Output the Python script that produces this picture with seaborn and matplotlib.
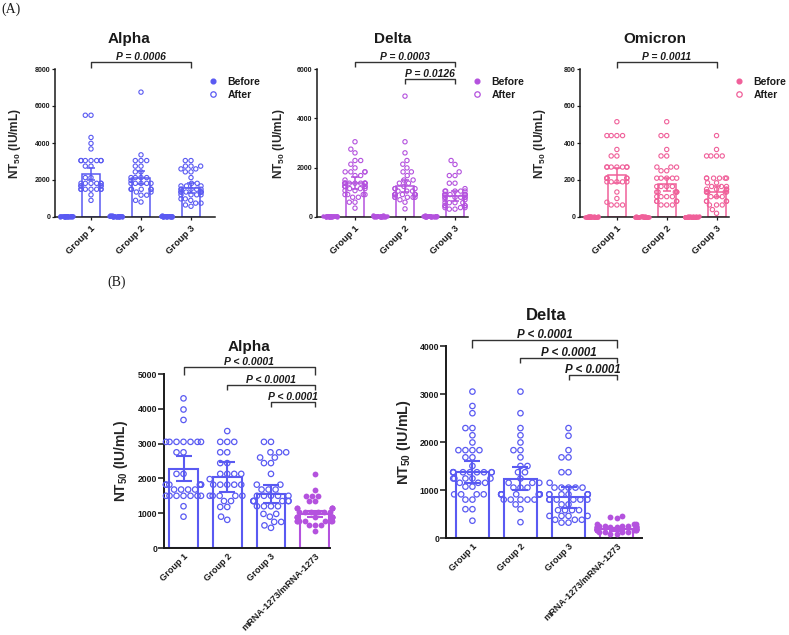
import warnings
import pandas as pd
import matplotlib
matplotlib.use("Agg")
import matplotlib.pyplot as plt
from matplotlib.lines import Line2D
import seaborn as sns

warnings.filterwarnings("ignore")

# values (NT50, IU/mL)
groups = ["Group 1", "Group 2", "Group 3"]
b_groups = ["Group 1", "Group 2", "Group 3", "mRNA-1273/mRNA-1273"]

alpha_g1 = [4300, 3980, 3680, 3050, 3050, 3050, 3050, 3050, 3050, 3050, 2750, 2750,
            2130, 2130, 1820, 1820, 1820, 1820, 1820, 1820, 1680, 1680, 1680, 1680,
            1500, 1500, 1500, 1500, 1500, 1500, 1500, 1200, 900]
alpha_g2 = [3360, 3050, 3050, 3050, 2750, 2750, 2440, 2440, 2130, 2130, 2130, 2130,
            1980, 1820, 1820, 1820, 1820, 1820, 1500, 1500, 1500, 1500, 1500, 1350,
            1350, 1180, 1180, 900, 810]
alpha_g3 = [3050, 3050, 2750, 2750, 2750, 2600, 2600, 2440, 2440, 2130, 1820, 1820,
            1680, 1680, 1680, 1500, 1500, 1500, 1500, 1500, 1350, 1350, 1350, 1350,
            1350, 1350, 1200, 1200, 1200, 1200, 980, 980, 900, 750, 750, 650, 580]
alpha_mrna = [2130, 1660, 1500, 1500, 1500, 1350, 1350, 1150, 1150, 1150, 1150, 1150,
              1040, 1040, 1040, 1040, 1040, 1040, 900, 900, 900, 900, 900, 900, 900,
              900, 780, 780, 780, 780, 780, 780, 780, 650, 650, 650, 480]

delta_g1 = [3050, 2750, 2600, 2290, 2290, 2140, 1990, 1830, 1830, 1830, 1830, 1680,
            1680, 1500, 1370, 1370, 1370, 1370, 1370, 1370, 1370, 1370, 1370, 1240,
            1240, 1240, 1240, 1240, 1150, 1150, 1150, 1070, 1070, 910, 910, 910, 910,
            800, 800, 600, 600, 360]
delta_g2 = [3050, 2600, 2290, 2140, 1990, 1830, 1830, 1680, 1500, 1500, 1370, 1370,
            1240, 1150, 1150, 1150, 1050, 1050, 1050, 910, 910, 910, 910, 910, 910,
            910, 910, 910, 800, 800, 800, 800, 800, 700, 600, 330]
delta_g3 = [2290, 2130, 1830, 1680, 1680, 1370, 1370, 1150, 1050, 1050, 1050, 1050,
            1050, 910, 910, 910, 910, 910, 910, 910, 800, 800, 800, 800, 800, 800,
            700, 700, 580, 580, 580, 580, 460, 460, 460, 460, 380, 380, 380, 320, 320]
delta_mrna = [450, 430, 410, 300, 300, 300, 260, 260, 260, 260, 260, 220, 220, 220,
              220, 220, 220, 220, 220, 190, 190, 190, 190, 190, 190, 190, 190, 160,
              160, 160, 160, 160, 160, 130, 130, 130, 130, 90, 90]

omicron_g1 = [515, 440, 440, 440, 440, 365, 330, 330, 270, 270, 270, 270, 270, 270,
              270, 210, 210, 210, 210, 210, 190, 190, 190, 190, 190, 135, 100, 80,
              65, 65, 65]
omicron_g2 = [515, 440, 440, 365, 330, 330, 270, 270, 270, 250, 250, 210, 210, 210,
              210, 210, 165, 165, 165, 165, 135, 135, 135, 135, 135, 110, 110, 110,
              110, 85, 85, 85, 85, 65, 65, 65]
omicron_g3 = [440, 365, 330, 330, 330, 330, 210, 210, 210, 210, 210, 210, 185, 185,
              165, 165, 165, 150, 150, 150, 150, 135, 135, 135, 135, 135, 110, 110,
              110, 85, 85, 85, 85, 65, 65, 65, 40, 20]

# high points only visible in panel A (panel B axes stop lower)
alpha_a_extra = [[5500, 5500], [6750], []]
delta_a_extra = [[], [4900], []]

# pre-boost titres, all near the floor
alpha_before = [
    [40, 20, 60, 40, 20, 40, 80, 40, 20, 40, 60, 40, 20, 40, 40, 60, 20, 40, 40, 80,
     20, 40, 60, 40, 40, 20, 40, 60, 40, 20],
    [60, 40, 20, 40, 100, 40, 20, 60, 40, 40, 20, 80, 40, 60, 20, 40, 40, 20, 60, 40,
     40, 120, 20, 40, 60, 40, 20, 40, 40, 60],
    [40, 60, 20, 40, 40, 80, 20, 40, 60, 40, 20, 40, 100, 40, 20, 60, 40, 40, 20, 40,
     60, 20, 40, 80, 40, 40, 20, 60, 40, 40],
]
delta_before = [
    [30, 20, 40, 30, 20, 30, 50, 30, 20, 30, 40, 30, 20, 30, 30, 40, 20, 30, 30, 50,
     20, 30, 40, 30, 30, 20, 30, 40, 30, 20],
    [40, 30, 20, 30, 80, 30, 20, 40, 30, 30, 20, 60, 30, 40, 20, 30, 30, 20, 40, 30,
     30, 90, 20, 30, 40, 30, 20, 30, 30, 40],
    [30, 40, 20, 30, 30, 60, 20, 30, 40, 30, 20, 30, 70, 30, 20, 40, 30, 30, 20, 30,
     40, 20, 30, 60, 30, 30, 20, 40, 30, 30],
]
omicron_before = [
    [2, 2, 3, 2, 2, 2, 3, 2, 2, 2, 2, 3, 2, 2, 2, 2, 3, 2, 2, 2, 2, 2, 3, 2, 2, 2, 2,
     3, 2, 2],
    [2, 3, 2, 2, 2, 2, 2, 3, 2, 2, 2, 2, 2, 3, 2, 2, 2, 2, 3, 2, 2, 2, 2, 2, 3, 2, 2,
     2, 2, 2],
    [2, 2, 2, 3, 2, 2, 2, 2, 3, 2, 2, 2, 2, 2, 2, 3, 2, 2, 2, 3, 2, 2, 2, 2, 2, 2, 3,
     2, 2, 2],
]

# bar heights and error half-widths as drawn
alpha_a_mean = [2320, 2130, 1570]
alpha_a_err = [330, 350, 280]
delta_a_mean = [1390, 1260, 865]
delta_a_err = [240, 250, 200]
omicron_a_mean = [225, 178, 137]
omicron_a_err = [40, 35, 28]
alpha_b_mean = [2280, 2040, 1550, 970]
alpha_b_err = [350, 420, 260, 80]
delta_b_mean = [1370, 1230, 850, 180]
delta_b_err = [230, 240, 220, 30]

alpha_a_p = ["P = 0.0006"]
delta_a_p = ["P = 0.0003", "P = 0.0126"]
omicron_a_p = ["P = 0.0011"]
alpha_b_p = ["P < 0.0001", "P < 0.0001", "P < 0.0001"]
delta_b_p = ["P < 0.0001", "P < 0.0001", "P < 0.0001"]

alpha_a_yticks = [0, 2000, 4000, 6000, 8000]
delta_a_yticks = [0, 2000, 4000, 6000]
omicron_a_yticks = [0, 200, 400, 600, 800]
alpha_b_yticks = [0, 1000, 2000, 3000, 4000, 5000]
delta_b_yticks = [0, 1000, 2000, 3000, 4000]

BLUE = "#5a5af2"
PURPLE = "#b452de"
PINK = "#f0609a"
INK = "#1a1a1a"

sns.set_style("ticks")
plt.rcParams["font.family"] = ["Liberation Sans", "DejaVu Sans"]
plt.rcParams["mathtext.default"] = "regular"
plt.rcParams["text.color"] = INK
plt.rcParams["axes.edgecolor"] = INK
plt.rcParams["xtick.color"] = INK
plt.rcParams["ytick.color"] = INK

W, H = 789, 635
YLABEL = "NT$_{50}$ (IU/mL)"


def px_rect(left, top, right, bottom):
    return [left / W, 1 - bottom / H, (right - left) / W, (bottom - top) / H]


def unclip_points(ax, start):
    # let dots sitting on the x axis show fully; drop empty scatter stubs
    for coll in list(ax.collections[start:]):
        if len(coll.get_offsets()) == 0:
            coll.remove()
        else:
            coll.set_clip_on(False)


def add_bracket(ax, x1, x2, y, leg, text, fs, lift):
    trans = ax.get_xaxis_transform()
    ax.plot([x1, x1, x2, x2], [y - leg, y, y, y - leg], transform=trans,
            color="#333333", lw=1.0, clip_on=False, solid_capstyle="butt")
    ax.text((x1 + x2) / 2, y + lift, text, transform=trans, ha="center",
            va="baseline", fontsize=fs, style="italic", weight="bold", clip_on=False)


def style_axes(ax, yticks, xlim, ytick_fs, spine_w, ytick_len):
    ax.set_xlim(xlim)
    ax.set_ylim(yticks[0], yticks[-1])
    ax.set_yticks(yticks, labels=[str(t) for t in yticks], fontsize=ytick_fs,
                  fontweight="bold")
    ax.set_xlabel("")
    sns.despine(ax=ax)
    for s in ["left", "bottom"]:
        ax.spines[s].set_linewidth(spine_w)
    ax.tick_params(axis="y", length=ytick_len, width=spine_w * 0.8, pad=1)


def draw_panel_a(rect, after, extra, before, means, errs, color, yticks, xlim,
                 title, title_x, pvals, brackets, legend_x, ylabel_x):
    ax = fig.add_axes(rect)
    conds, rows = [], []
    for g, a, ex, b in zip(groups, after, extra, before):
        conds += [g + " Before", g + " After"]
        rows += [(g + " Before", "Before", v) for v in b]
        rows += [(g + " After", "After", v) for v in a + ex]
    pts = pd.DataFrame(rows, columns=["cond", "time", "value"])
    bars = pd.DataFrame({"cond": [g + " After" for g in groups], "value": means})

    sns.barplot(data=bars, x="cond", y="value", order=conds, color=color, fill=False,
                width=0.72, linewidth=1.1, errorbar=None, ax=ax)
    n0 = len(ax.collections)
    sns.stripplot(data=pts[pts.time == "Before"], x="cond", y="value", order=conds,
                  color=color, size=3.2, jitter=0.28, linewidth=0, ax=ax)
    n1 = len(ax.collections)
    sns.swarmplot(data=pts[pts.time == "After"], x="cond", y="value", order=conds,
                  color=color, size=3.1, linewidth=0.8, ax=ax)
    for coll in ax.collections[n1:]:
        coll.set_facecolor("none")
        coll.set_edgecolor(color)
    unclip_points(ax, n0)
    for g, m, e in zip(groups, means, errs):
        ax.errorbar(conds.index(g + " After"), m, yerr=e, color=color, capsize=3,
                    elinewidth=1.1, capthick=1.1, zorder=4)

    style_axes(ax, yticks, xlim, 5, 1.1, 2.2)
    ax.set_xticks([conds.index(g + " After") for g in groups])
    ax.set_xticklabels(groups, rotation=45, ha="right", va="top",
                       rotation_mode="anchor", fontsize=6.8, fontweight="bold")
    ax.tick_params(axis="x", length=2, width=0.9, pad=3)
    ax.set_ylabel(YLABEL, fontsize=8.6, fontweight="bold")
    ax.yaxis.set_label_coords(ylabel_x, 0.5)
    ax.text(title_x, 1.176, title, transform=ax.transAxes, ha="center",
            va="baseline", fontsize=11, fontweight="bold")

    for (a, b, y, leg), p in zip(brackets, pvals):
        add_bracket(ax, conds.index(groups[a] + " After"),
                    conds.index(groups[b] + " After"), y, leg, p, 7.4, 0.014)

    handles = [Line2D([], [], ls="none", marker="o", ms=3.4, mfc=color, mec=color),
               Line2D([], [], ls="none", marker="o", ms=3.9, mfc="none", mec=color,
                      mew=0.9)]
    ax.legend(handles, ["Before", "After"], loc="upper left",
              bbox_to_anchor=(legend_x, 0.946), frameon=False,
              prop={"weight": "bold", "size": 7.5}, handlelength=0.8,
              handletextpad=1.0, borderpad=0, borderaxespad=0, labelspacing=0.3)
    return ax


def draw_panel_b(rect, data, means, errs, yticks, xlim, bar_w, title, title_fs,
                 pvals, brackets, pv_fs, ylabel_fs, ylabel_x, cap):
    ax = fig.add_axes(rect)
    colors = [BLUE, BLUE, BLUE, PURPLE]
    pts = pd.DataFrame([(g, v) for g, vals in zip(b_groups, data) for v in vals],
                       columns=["cond", "value"])
    bars = pd.DataFrame({"cond": b_groups, "value": means})

    sns.barplot(data=bars, x="cond", y="value", hue="cond", order=b_groups,
                palette=colors, fill=False, width=bar_w, linewidth=1.5,
                errorbar=None, legend=False, ax=ax)
    n0 = len(ax.collections)
    sns.swarmplot(data=pts[pts.cond != b_groups[-1]], x="cond", y="value",
                  order=b_groups, color=BLUE, size=3.9, linewidth=0.9, ax=ax)
    n1 = len(ax.collections)
    sns.swarmplot(data=pts[pts.cond == b_groups[-1]], x="cond", y="value",
                  order=b_groups, color=PURPLE, size=4.2, linewidth=0, ax=ax)
    for coll in ax.collections[n0:n1]:
        coll.set_facecolor("none")
        coll.set_edgecolor(BLUE)
    unclip_points(ax, n0)
    for g, m, e, c in zip(b_groups, means, errs, colors):
        ax.errorbar(b_groups.index(g), m, yerr=e, color=c, capsize=cap,
                    elinewidth=1.5, capthick=1.5, zorder=4)

    style_axes(ax, yticks, xlim, 6.2, 1.4, 4)
    ax.set_xticks(range(len(b_groups)))
    ax.set_xticklabels(b_groups, rotation=45, ha="right", va="top",
                       rotation_mode="anchor", fontsize=6.6, fontweight="bold")
    ax.tick_params(axis="x", length=0, pad=2.5)
    ax.set_ylabel(YLABEL, fontsize=ylabel_fs, fontweight="bold")
    ax.yaxis.set_label_coords(ylabel_x, 0.5)
    ax.text(0.51, 1.133, title, transform=ax.transAxes, ha="center",
            va="baseline", fontsize=title_fs, fontweight="bold")

    for (a, b, y, leg), p in zip(brackets, pvals):
        add_bracket(ax, a, b, y, leg, p, pv_fs, 0.012)
    return ax


fig = plt.figure(figsize=(W / 100, H / 100), dpi=100)

draw_panel_a(px_rect(55, 69, 215, 217), [alpha_g1, alpha_g2, alpha_g3], alpha_a_extra,
             alpha_before, alpha_a_mean, alpha_a_err, BLUE, alpha_a_yticks,
             (-0.44, 5.96), "Alpha", 0.46, alpha_a_p, [(0, 2, 1.047, 0.04)],
             0.961, -0.20)
draw_panel_a(px_rect(317, 69, 468, 217), [delta_g1, delta_g2, delta_g3], delta_a_extra,
             delta_before, delta_a_mean, delta_a_err, PURPLE, delta_a_yticks,
             (-0.52, 5.52), "Delta", 0.5, delta_a_p,
             [(0, 2, 1.047, 0.033), (1, 2, 0.932, 0.03)], 1.032, -0.20)
draw_panel_a(px_rect(580, 69, 729, 217), [omicron_g1, omicron_g2, omicron_g3],
             [[], [], []], omicron_before, omicron_a_mean, omicron_a_err, PINK,
             omicron_a_yticks, (-0.48, 5.5), "Omicron", 0.5, omicron_a_p,
             [(0, 2, 1.047, 0.04)], 1.039, -0.215)

draw_panel_b(px_rect(164, 374, 330, 548), [alpha_g1, alpha_g2, alpha_g3, alpha_mrna],
             alpha_b_mean, alpha_b_err, alpha_b_yticks, (-0.446, 3.35), 0.66,
             "Alpha", 11, alpha_b_p,
             [(0, 3, 1.040, 0.046), (1, 3, 0.937, 0.029), (2, 3, 0.839, 0.029)],
             7.5, 9.9, -0.205, 6)
draw_panel_b(px_rect(446, 346, 642, 538), [delta_g1, delta_g2, delta_g3, delta_mrna],
             delta_b_mean, delta_b_err, delta_b_yticks, (-0.55, 3.53), 0.69,
             "Delta", 12, delta_b_p,
             [(0, 3, 1.031, 0.041), (1, 3, 0.9375, 0.026), (2, 3, 0.849, 0.026)],
             8.3, 10.4, -0.168, 6)

fig.text(1 / W, 1 - 13 / H, "(A)", fontsize=10, family="Liberation Serif",
         va="baseline")
fig.text(107 / W, 1 - 286 / H, "(B)", fontsize=10, family="Liberation Serif",
         va="baseline")

fig.savefig("out.png", dpi=100, facecolor="white")
